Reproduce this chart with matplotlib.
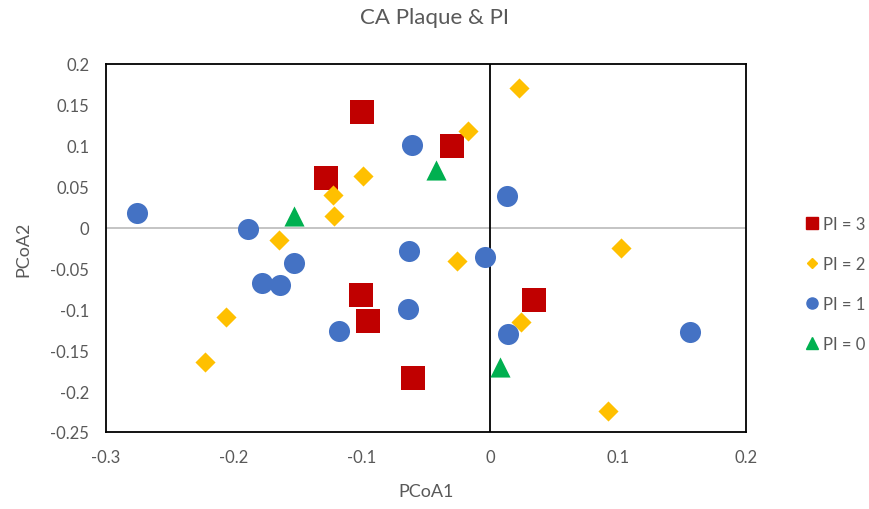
import matplotlib
matplotlib.use('Agg')
import matplotlib.pyplot as plt
from matplotlib.lines import Line2D
from matplotlib.ticker import FuncFormatter

plt.rcParams['font.family'] = ['Lato', 'DejaVu Sans']

# PCoA coordinates by plaque index group
pi3_x = [-0.100, -0.030, -0.128, -0.101, -0.095, 0.034, -0.060]
pi3_y = [0.141, 0.100, 0.061, -0.083, -0.114, -0.088, -0.184]

pi2_x = [0.023, -0.017, -0.099, -0.123, -0.122, -0.165, -0.026, 0.102,
         -0.206, 0.024, -0.223, 0.092]
pi2_y = [0.171, 0.118, 0.063, 0.040, 0.014, -0.015, -0.041, -0.025,
         -0.109, -0.116, -0.164, -0.224]

pi1_x = [-0.276, -0.189, -0.061, 0.013, -0.153, -0.178, -0.164, -0.063,
         -0.004, -0.064, -0.118, 0.014, 0.156]
pi1_y = [0.018, -0.002, 0.101, 0.039, -0.043, -0.068, -0.070, -0.029,
         -0.036, -0.099, -0.127, -0.130, -0.128]

pi0_x = [-0.153, -0.042, 0.008]
pi0_y = [0.014, 0.070, -0.171]

groups = [
    ('PI = 3', pi3_x, pi3_y, 's', '#C00000', 290, 8),
    ('PI = 2', pi2_x, pi2_y, 'D', '#FFC000', 105, 5.5),
    ('PI = 1', pi1_x, pi1_y, 'o', '#4472C4', 230, 8),
    ('PI = 0', pi0_x, pi0_y, '^', '#00B050', 210, 8),
]

TEXT = '#595959'

fig = plt.figure(figsize=(8.7, 5.1), dpi=100)
ax = fig.add_axes([106/870, 1 - 433/510, 640/870, 368/510])

# axis lines through the origin
ax.axhline(0, color='#BFBFBF', lw=1.3, zorder=1)
ax.axvline(0, color='black', lw=1.3, zorder=1)

handles = []
for label, xs, ys, m, c, s, ms in groups:
    ax.scatter(xs, ys, marker=m, s=s, color=c, linewidths=0, zorder=3)
    handles.append(Line2D([], [], linestyle='none', marker=m, color=c,
                          markersize=ms, label=label))

ax.set_xlim(-0.3, 0.2)
ax.set_ylim(-0.25, 0.2)
ax.set_xticks([-0.3, -0.2, -0.1, 0, 0.1, 0.2])
ax.set_yticks([0.2, 0.15, 0.1, 0.05, 0, -0.05, -0.1, -0.15, -0.2, -0.25])
fmt = FuncFormatter(lambda v, p: '%g' % round(v, 3))
ax.xaxis.set_major_formatter(fmt)
ax.yaxis.set_major_formatter(fmt)
ax.tick_params(length=0, labelsize=12, labelcolor=TEXT, pad=12)

for sp in ax.spines.values():
    sp.set_color('black')
    sp.set_linewidth(1.3)

ax.set_xlabel('PCoA1', fontsize=13, color=TEXT, labelpad=13)
ax.set_ylabel('PCoA2', fontsize=13, color=TEXT, labelpad=14)
fig.text(0.5, 1 - 18/510, 'CA Plaque & PI', ha='center', va='center',
         fontsize=16, color=TEXT)

leg = fig.legend(handles=handles, loc='upper left',
                 bbox_to_anchor=(795/870, 1 - 210/510), frameon=False,
                 fontsize=12, labelspacing=1.45, handletextpad=0.1,
                 handlelength=1.2, borderaxespad=0)
for t in leg.get_texts():
    t.set_color(TEXT)

fig.savefig('out.png', dpi=100)
